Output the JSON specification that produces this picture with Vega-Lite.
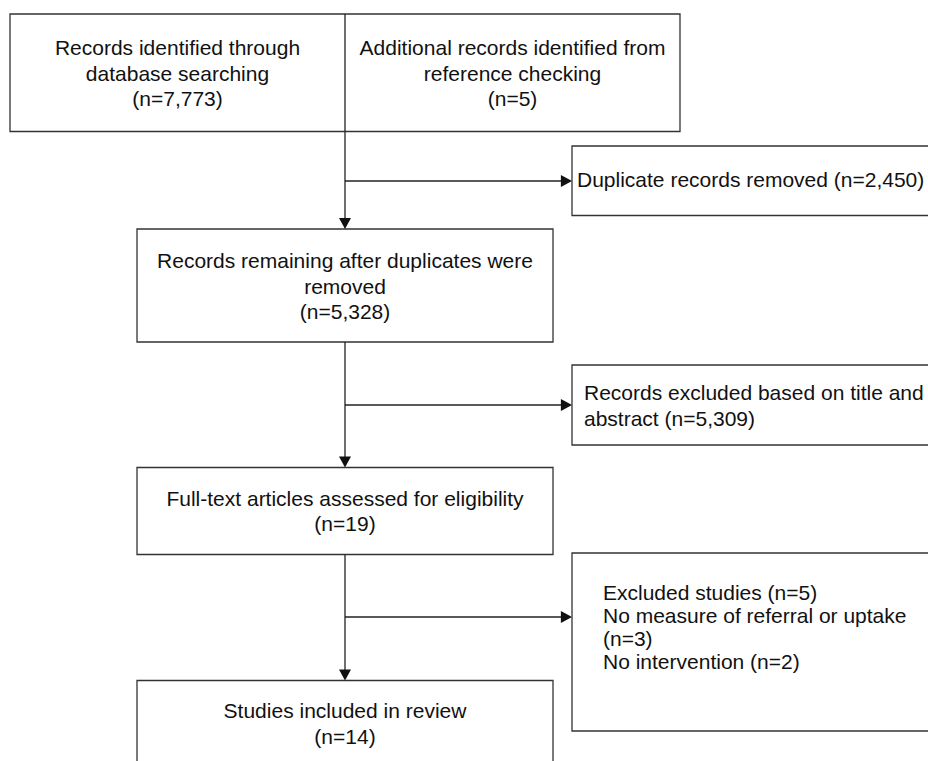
{
  "$schema": "https://vega.github.io/schema/vega-lite/v6.json",
  "width": 928,
  "height": 761,
  "autosize": {"type": "none"},
  "padding": 0,
  "background": "white",
  "config": {"view": {"stroke": null}},
  "datasets": {
    "boxes": [
      {"id": "identified", "x": 10, "x2": 680, "y": 14, "y2": 131.5},
      {"id": "duplicates", "x": 572, "x2": 945, "y": 146, "y2": 215.5},
      {"id": "remaining", "x": 137, "x2": 553, "y": 229, "y2": 342},
      {"id": "excluded_ta", "x": 572, "x2": 945, "y": 365, "y2": 445},
      {"id": "fulltext", "x": 137, "x2": 553, "y": 467.5, "y2": 554.5},
      {"id": "excluded_ft", "x": 572, "x2": 945, "y": 553, "y2": 731},
      {"id": "included", "x": 137, "x2": 553, "y": 680.5, "y2": 780}
    ],
    "lines": [
      {"x": 345, "x2": 345, "y": 14, "y2": 222},
      {"x": 345, "x2": 566, "y": 181, "y2": 181},
      {"x": 345, "x2": 345, "y": 342, "y2": 461},
      {"x": 345, "x2": 566, "y": 405, "y2": 405},
      {"x": 345, "x2": 345, "y": 554.5, "y2": 674},
      {"x": 345, "x2": 566, "y": 617, "y2": 617}
    ],
    "arrows": [
      {"x": 345, "y": 229, "dir": "down"},
      {"x": 572, "y": 181, "dir": "right"},
      {"x": 345, "y": 467.5, "dir": "down"},
      {"x": 572, "y": 405, "dir": "right"},
      {"x": 345, "y": 680.5, "dir": "down"},
      {"x": 572, "y": 617, "dir": "right"}
    ],
    "labels": [
      {"group": "center", "t": "Records identified through\ndatabase searching\n(n=7,773)", "x": 177.5, "y": 49},
      {"group": "center", "t": "Additional records identified from\nreference checking\n(n=5)", "x": 512.5, "y": 49},
      {"group": "center", "t": "Records remaining after duplicates were\nremoved\n(n=5,328)", "x": 345, "y": 262},
      {"group": "center", "t": "Full-text articles assessed for eligibility\n(n=19)", "x": 345, "y": 499.5},
      {"group": "center", "t": "Studies included in review\n(n=14)", "x": 345, "y": 712},
      {"group": "left", "t": "Duplicate records removed (n=2,450)", "x": 577, "y": 181},
      {"group": "left", "t": "Records excluded based on title and\nabstract (n=5,309)", "x": 584, "y": 393.5},
      {"group": "tight", "t": "Excluded studies (n=5)\nNo measure of referral or uptake\n(n=3)\nNo intervention (n=2)", "x": 603, "y": 593.5}
    ]
  },
  "encoding": {
    "x": {"field": "x", "type": "quantitative", "scale": {"domain": [0, 928], "nice": false, "zero": false}, "axis": null},
    "y": {"field": "y", "type": "quantitative", "scale": {"domain": [0, 761], "nice": false, "zero": false, "reverse": true}, "axis": null}
  },
  "layer": [
    {
      "data": {"name": "boxes"},
      "mark": {"type": "rect", "fill": "white", "stroke": "#333333", "strokeWidth": 1.3, "clip": true},
      "encoding": {"x2": {"field": "x2"}, "y2": {"field": "y2"}}
    },
    {
      "data": {"name": "lines"},
      "mark": {"type": "rule", "stroke": "#222222", "strokeWidth": 1.3, "clip": true},
      "encoding": {"x2": {"field": "x2"}, "y2": {"field": "y2"}}
    },
    {
      "data": {"name": "arrows"},
      "mark": {"type": "point", "filled": true, "opacity": 1, "color": "#111111", "size": 144, "strokeWidth": 0},
      "encoding": {
        "shape": {
          "field": "dir",
          "type": "nominal",
          "scale": {"domain": ["down", "right"], "range": ["M-1,-1.85L1,-1.85L0,0Z", "M-1.85,-1L0,0L-1.85,1Z"]},
          "legend": null
        }
      }
    },
    {
      "data": {"name": "labels"},
      "transform": [{"filter": "datum.group === 'center'"}],
      "mark": {"type": "text", "align": "center", "baseline": "middle", "font": "Liberation Sans", "fontSize": 21, "lineHeight": 25.5, "lineBreak": "\n", "color": "#111111"},
      "encoding": {"text": {"field": "t", "type": "nominal"}}
    },
    {
      "data": {"name": "labels"},
      "transform": [{"filter": "datum.group === 'left'"}],
      "mark": {"type": "text", "align": "left", "baseline": "middle", "font": "Liberation Sans", "fontSize": 21, "lineHeight": 26.5, "lineBreak": "\n", "color": "#111111", "clip": true},
      "encoding": {"text": {"field": "t", "type": "nominal"}}
    },
    {
      "data": {"name": "labels"},
      "transform": [{"filter": "datum.group === 'tight'"}],
      "mark": {"type": "text", "align": "left", "baseline": "middle", "font": "Liberation Sans", "fontSize": 21, "lineHeight": 23, "lineBreak": "\n", "color": "#111111", "clip": true},
      "encoding": {"text": {"field": "t", "type": "nominal"}}
    }
  ]
}
